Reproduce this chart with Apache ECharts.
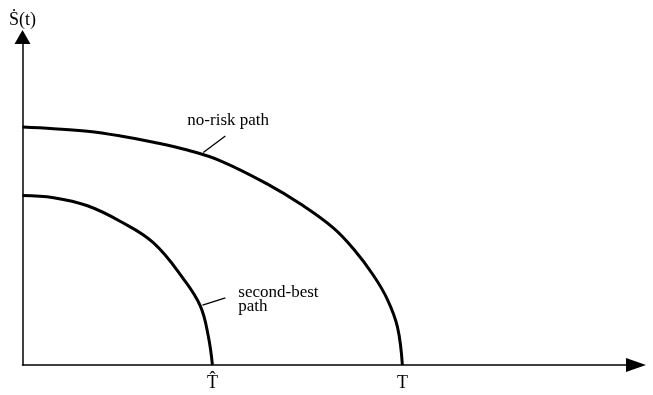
<!DOCTYPE html>
<html>
<head>
<meta charset="utf-8">
<script src="https://cdn.jsdelivr.net/npm/echarts@6/dist/echarts.min.js"></script>
<style>
  html, body { margin: 0; padding: 0; background: #fff; }
  #main { width: 653px; height: 395px; }
</style>
</head>
<body>
<div id="main"></div>
<script>
    // 曲線上讀出的點 (x: T = 10, y: no-risk 起點 = 10)
    var noRiskPath = [
        [0, 10.0], [0.82, 9.93], [1.71, 9.82], [2.58, 9.62], [3.45, 9.36],
        [4.34, 9.03], [5.21, 8.58], [6.45, 7.60], [7.32, 6.76], [8.18, 5.76],
        [8.71, 4.88], [9.24, 3.76], [9.61, 2.74], [9.87, 1.60], [10, 0]
    ];
    var secondBestPath = [
        [0, 7.12], [0.82, 7.03], [1.71, 6.69], [2.58, 6.03], [3.45, 5.13],
        [4.24, 3.61], [4.68, 2.48], [4.89, 1.22], [5, 0]
    ];
    // x 軸刻度
    var tickValues = [5, 10];
    var tickLabels = ['T\u0302', 'T'];

    // 標註引線
    var noRiskLeader = [[4.76, 8.93], [5.34, 9.62]];
    var secondBestLeader = [[4.74, 2.52], [5.34, 2.82]];

    var serif = '"Liberation Serif", "DejaVu Serif", serif';

    var myChart = echarts.init(document.getElementById('main'));

    function leader(pts) {
        return {
            silent: true,
            symbol: 'none',
            label: { show: false },
            lineStyle: { color: '#000', width: 1.3, type: 'solid' },
            data: [[{ coord: pts[0] }, { coord: pts[1] }]]
        };
    }

    var option = {
        animation: false,
        grid: { left: 22.5, top: 37, width: 613.5, height: 328 },
        xAxis: {
            type: 'value',
            min: 0,
            max: 16.15,
            interval: 5,
            splitLine: { show: false },
            axisTick: { show: false },
            axisLine: {
                lineStyle: { color: '#000', width: 1.5 },
                symbol: ['none', 'triangle'],
                symbolSize: [14, 20]
            },
            axisLabel: {
                margin: 9,
                color: '#000',
                fontFamily: serif,
                fontSize: 18,
                showMaxLabel: false,
                formatter: function (v) {
                    var i = tickValues.indexOf(v);
                    return i >= 0 ? tickLabels[i] : '';
                }
            }
        },
        yAxis: {
            type: 'value',
            min: 0,
            max: 13.78,
            name: '\u1E60(t)',
            nameGap: 8,
            nameTextStyle: { color: '#000', fontFamily: serif, fontSize: 18 },
            splitLine: { show: false },
            axisTick: { show: false },
            axisLabel: { show: false },
            axisLine: {
                lineStyle: { color: '#000', width: 1.5 },
                symbol: ['none', 'triangle'],
                symbolSize: [16, 14]
            }
        },
        series: [
            {
                name: 'no-risk path',
                type: 'line',
                data: noRiskPath,
                smooth: 0.4,
                showSymbol: false,
                lineStyle: { color: '#000', width: 3 },
                markLine: leader(noRiskLeader)
            },
            {
                name: 'second-best path',
                type: 'line',
                data: secondBestPath,
                smooth: 0.4,
                showSymbol: false,
                lineStyle: { color: '#000', width: 3 },
                markLine: leader(secondBestLeader)
            }
        ]
    };

    myChart.setOption(option);

    // 文字標註位置由資料座標換算
    var p1 = myChart.convertToPixel({ gridIndex: 0 }, [4.34, 10.25]);
    var p2 = myChart.convertToPixel({ gridIndex: 0 }, [5.68, 3.32]);
    myChart.setOption({
        graphic: [
            {
                type: 'text', x: p1[0], y: p1[1],
                style: { text: 'no-risk path', fill: '#000', font: '17px ' + serif, verticalAlign: 'middle' }
            },
            {
                type: 'text', x: p2[0], y: p2[1],
                style: { text: 'second-best\npath', fill: '#000', font: '17px ' + serif, lineHeight: 14, verticalAlign: 'top' }
            }
        ]
    });
</script>
</body>
</html>
